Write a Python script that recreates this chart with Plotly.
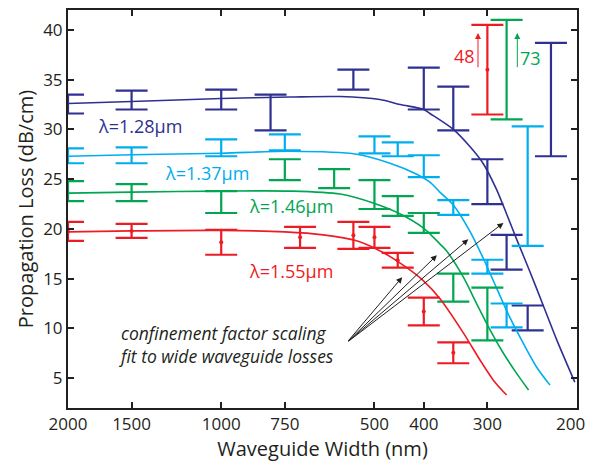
import math
import plotly.graph_objects as go

# ---------------- data ----------------
# error-bar measurements: waveguide width (nm), lower and upper loss (dB/cm)
w128 = [2000, 1500, 1000, 800, 550, 400, 350, 300, 275, 250, 225]
lo128 = [31.6, 32.0, 32.0, 29.9, 34.0, 32.0, 29.9, 22.5, 15.9, 9.8, 27.3]
hi128 = [33.5, 33.9, 34.0, 33.5, 36.0, 36.2, 34.3, 27.0, 19.4, 12.3, 38.7]

w137 = [2000, 1500, 1000, 750, 500, 450, 400, 350, 300, 275, 250]
lo137 = [26.6, 26.6, 27.3, 27.9, 27.6, 27.3, 25.2, 21.4, 15.5, 10.1, 18.3]
hi137 = [28.1, 28.2, 29.0, 29.5, 29.3, 28.7, 27.4, 22.9, 16.9, 12.5, 30.3]

w146 = [2000, 1500, 1000, 750, 600, 500, 450, 400, 350, 300, 275]
lo146 = [22.8, 22.8, 21.6, 24.9, 24.1, 22.0, 21.3, 19.6, 12.7, 8.8, 31.0]
hi146 = [24.8, 24.5, 23.8, 27.0, 26.0, 24.9, 23.3, 21.6, 15.5, 14.1, 41.0]

w155 = [2000, 1500, 1000, 700, 550, 500, 450, 400, 350, 300]
lo155 = [18.8, 19.1, 17.4, 18.1, 18.0, 18.1, 16.1, 10.3, 6.5, 31.5]
hi155 = [20.7, 20.5, 19.9, 20.2, 20.7, 20.2, 17.6, 13.1, 8.6, 40.5]

# confinement-factor fit curves
fw128 = [2000, 1500, 1000, 733, 584, 488, 445, 400, 389, 350, 325, 306, 288, 275, 263, 247, 233, 219, 202]
fl128 = [32.6, 32.8, 33.1, 33.25, 33.3, 33.0, 32.5, 32.0, 31.6, 30.0, 28.3, 26.6, 24.0, 21.5, 19.0, 15.6, 12.3, 8.8, 4.6]

fw137 = [2000, 1500, 1000, 733, 542, 466, 413, 389, 372, 350, 325, 306, 288, 271, 255, 240, 226]
fl137 = [27.3, 27.45, 27.6, 27.8, 27.5, 26.6, 25.5, 24.7, 23.7, 22.4, 19.8, 17.1, 14.1, 11.1, 8.5, 6.1, 4.3]

fw146 = [2000, 1500, 1000, 733, 584, 503, 445, 401, 372, 361, 334, 315, 296, 279, 263, 249]
fl146 = [23.6, 23.7, 23.8, 23.8, 23.5, 22.6, 21.5, 20.1, 18.5, 17.8, 15.1, 12.5, 9.8, 7.5, 5.5, 3.8]

fw155 = [2000, 1500, 1000, 750, 630, 542, 480, 432, 401, 372, 334, 310, 292, 275]
fl155 = [19.7, 19.8, 19.85, 19.7, 19.4, 18.8, 17.6, 16.1, 14.8, 13.0, 9.5, 6.8, 4.8, 3.3]

labels = ["λ=1.28μm", "λ=1.37μm", "λ=1.46μm", "λ=1.55μm"]
label_w = [1445, 1066, 729, 729]
label_l = [30.3, 25.6, 22.3, 15.8]

x_ticks = [2000, 1500, 1000, 750, 500, 400, 300, 200]
y_ticks = [5, 10, 15, 20, 25, 30, 35, 40]

# pointer arrows (width, loss)
arrow_head_w = [441, 377, 327, 279]
arrow_head_l = [15.15, 17.35, 18.95, 20.6]
arrow_tail_w = 566
arrow_tail_l = 8.6

off_w = [313, 262]
off_lo = [36.1, 36.1]
off_hi = [39.7, 39.7]
off_txt = ["48", "73"]
off_txt_w = [333, 247]
off_txt_l = [37.4, 37.2]

C128 = "#2e3192"
C137 = "#00aeef"
C146 = "#00a651"
C155 = "#ed1c24"
INK = "#231f20"
FONT = "Open Sans"

fig = go.Figure()


def add_series(ws, lo, hi, fw, fl, color, dots):
    mid = [(a + b) / 2 for a, b in zip(lo, hi)]
    plus = [b - m for b, m in zip(hi, mid)]
    minus = [m - a for a, m in zip(lo, mid)]
    fig.add_trace(go.Scatter(
        x=fw, y=fl, mode="lines", line=dict(color=color, width=1.6, shape="spline", smoothing=0.8),
        hoverinfo="skip", showlegend=False))
    fig.add_trace(go.Scatter(
        x=ws, y=mid, mode="markers",
        marker=dict(color=color, size=4 if dots else 0.1, opacity=1),
        error_y=dict(type="data", array=plus, arrayminus=minus, symmetric=False,
                     color=color, thickness=2.2, width=16),
        showlegend=False))


add_series(w128, lo128, hi128, fw128, fl128, C128, False)
add_series(w137, lo137, hi137, fw137, fl137, C137, False)
add_series(w146, lo146, hi146, fw146, fl146, C146, False)
add_series(w155, lo155, hi155, fw155, fl155, C155, True)

ann = []
for t, wv, lv, c in zip(labels, label_w, label_l, [C128, C137, C146, C155]):
    ann.append(dict(x=math.log10(wv), y=lv, xref="x", yref="y", text=t, showarrow=False,
                    font=dict(family=FONT, size=18, color=c)))

ann.append(dict(x=math.log10(1603), y=8.35, xref="x", yref="y", xanchor="left",
                text="confinement factor scaling<br>fit to wide waveguide losses",
                showarrow=False, align="left",
                font=dict(family=FONT, size=17.5, color=INK, style="italic")))

for hw, hl in zip(arrow_head_w, arrow_head_l):
    ann.append(dict(x=math.log10(hw), y=hl, xref="x", yref="y",
                    ax=math.log10(arrow_tail_w), ay=arrow_tail_l, axref="x", ayref="y",
                    text="", showarrow=True, arrowhead=2, arrowsize=1.2, arrowwidth=1,
                    arrowcolor=INK))

for wv, l0, l1, c in zip(off_w, off_lo, off_hi, [C155, C146]):
    ann.append(dict(x=math.log10(wv), y=l1, xref="x", yref="y",
                    ax=math.log10(wv), ay=l0, axref="x", ayref="y",
                    text="", showarrow=True, arrowhead=2, arrowsize=1.2, arrowwidth=1,
                    arrowcolor=c))
for t, wv, lv, c in zip(off_txt, off_txt_w, off_txt_l, [C155, C146]):
    ann.append(dict(x=math.log10(wv), y=lv, xref="x", yref="y", text=t, showarrow=False,
                    font=dict(family=FONT, size=18, color=c)))

# last tick label sits against the figure edge, so it is placed as right-anchored text
ann.append(dict(x=1.0196, y=-0.04, xref="paper", yref="paper", xanchor="right", yanchor="middle",
                text=str(x_ticks[-1]), showarrow=False,
                font=dict(family=FONT, size=17, color=INK)))

fig.update_layout(
    width=589, height=465,
    margin=dict(l=68, r=12, t=8, b=57),
    plot_bgcolor="white", paper_bgcolor="white",
    font=dict(family=FONT, size=17, color=INK),
    annotations=ann,
    showlegend=False,
)
fig.update_xaxes(
    type="log", range=[math.log10(2000), math.log10(200)],
    tickvals=x_ticks, ticktext=[str(v) for v in x_ticks[:-1]] + [""],
    ticks="inside", ticklen=6, tickwidth=1.5, tickcolor=INK,
    showline=True, linecolor=INK, linewidth=2, mirror="ticks",
    showgrid=False, zeroline=False,
    tickfont=dict(family=FONT, size=17, color=INK),
    title=dict(text="Waveguide Width (nm)", font=dict(family=FONT, size=20, color=INK), standoff=4),
)
fig.update_yaxes(
    range=[2, 42], tickvals=y_ticks,
    ticks="inside", ticklen=6, tickwidth=1.5, tickcolor=INK,
    showline=True, linecolor=INK, linewidth=2, mirror="ticks",
    showgrid=False, zeroline=False,
    tickfont=dict(family=FONT, size=17, color=INK),
    title=dict(text="Propagation Loss (dB/cm)", font=dict(family=FONT, size=20, color=INK), standoff=4),
)

fig.write_html("out.html")
